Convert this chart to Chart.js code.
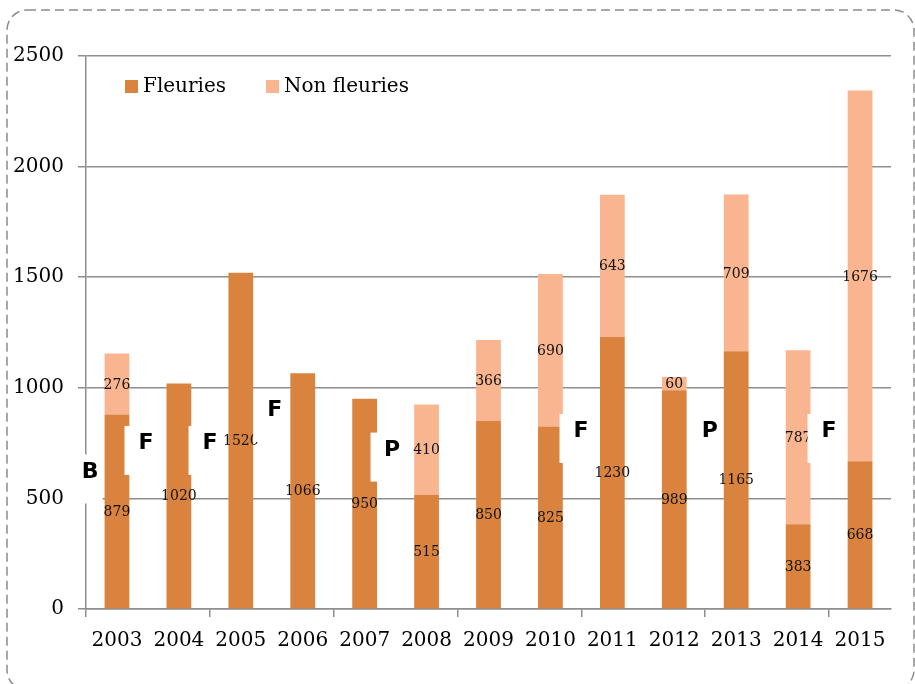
<!DOCTYPE html>
<html>
<head>
<meta charset="utf-8">
<script src="https://cdn.jsdelivr.net/npm/chart.js@4/dist/chart.umd.min.js"></script>
<style>
  html, body { margin: 0; padding: 0; background: #ffffff; }
  #wrap { position: relative; width: 915px; height: 684px; }
</style>
</head>
<body>
<div id="wrap"><canvas id="c" width="915" height="684"></canvas></div>
<script>
// ---- data ----
const years = ['2003','2004','2005','2006','2007','2008','2009','2010','2011','2012','2013','2014','2015'];
const fleuries = [879, 1020, 1520, 1066, 950, 515, 850, 825, 1230, 989, 1165, 383, 668];
const nonFleuries = [276, null, null, null, null, 410, 366, 690, 643, 60, 709, 787, 1676];
const seriesNames = ['Fleuries', 'Non fleuries'];
const yTicks = [0, 500, 1000, 1500, 2000, 2500];

// small lettered white boxes overlaid on the chart (category position, value level)
const noteLetters = ['B', 'F', 'F', 'F', 'P', 'F', 'P', 'F'];
const notePos = [-0.435, 0.469, 1.503, 2.55, 4.442, 7.494, 9.575, 11.5];
const noteLevel = [624, 753, 753, 902, 723, 807, 809, 807];

const DARK = '#D9833F';
const LIGHT = '#F9B58F';
const GRID = '#8e8e8e';
const SERIF = '"DejaVu Serif", "Liberation Serif", serif';

const frame = {
  id: 'frame',
  beforeDraw(chart) {
    const ctx = chart.ctx;
    ctx.save();
    ctx.strokeStyle = '#8c8c8c';
    ctx.lineWidth = 1.5;
    ctx.setLineDash([9, 5]);
    ctx.beginPath();
    ctx.roundRect(7, 10, 907, 680, 20);
    ctx.stroke();
    ctx.restore();
  }
};

const valueLabels = {
  id: 'valueLabels',
  afterDatasetsDraw(chart) {
    const ctx = chart.ctx;
    ctx.save();
    ctx.font = '14px ' + SERIF;
    ctx.fillStyle = '#111111';
    ctx.textAlign = 'center';
    ctx.textBaseline = 'middle';
    chart.data.datasets.forEach((ds, di) => {
      const meta = chart.getDatasetMeta(di);
      meta.data.forEach((el, i) => {
        const v = ds.data[i];
        if (v == null || v === 0) return;
        const p = el.getProps(['x', 'y', 'base'], true);
        ctx.fillText(String(v), p.x, (p.y + p.base) / 2 + 1);
      });
    });
    ctx.restore();
  }
};

const notes = {
  id: 'notes',
  afterDraw(chart) {
    const ctx = chart.ctx;
    const xs = chart.scales.x, ys = chart.scales.y;
    ctx.save();
    noteLetters.forEach((letter, i) => {
      const cx = xs.getPixelForValue(notePos[i]);
      const cy = ys.getPixelForValue(noteLevel[i]);
      ctx.fillStyle = '#ffffff';
      ctx.fillRect(cx - 21.5, cy - 16.5, 34, 49);
      ctx.fillStyle = '#000000';
      ctx.font = 'bold 22px "DejaVu Sans", sans-serif';
      ctx.textAlign = 'center';
      ctx.textBaseline = 'middle';
      ctx.fillText(letter, cx, cy + 1);
    });
    ctx.restore();
  }
};

const innerLegend = {
  id: 'innerLegend',
  afterDraw(chart) {
    const ctx = chart.ctx;
    const area = chart.chartArea;
    ctx.save();
    ctx.font = '20px ' + SERIF;
    ctx.textBaseline = 'middle';
    ctx.textAlign = 'left';
    let x = area.left + 39;
    const y = area.top + 24;
    chart.data.datasets.forEach((ds) => {
      ctx.fillStyle = ds.backgroundColor;
      ctx.fillRect(x, y, 13, 13);
      ctx.fillStyle = '#000000';
      ctx.fillText(ds.label, x + 18, y + 7);
      x += 18 + ctx.measureText(ds.label).width + 40;
    });
    ctx.restore();
  }
};

new Chart(document.getElementById('c'), {
  type: 'bar',
  data: {
    labels: years,
    datasets: [
      { label: seriesNames[0], data: fleuries, backgroundColor: DARK, borderWidth: 0,
        barPercentage: 0.4, categoryPercentage: 1.0 },
      { label: seriesNames[1], data: nonFleuries, backgroundColor: LIGHT, borderWidth: 0,
        barPercentage: 0.4, categoryPercentage: 1.0 }
    ]
  },
  options: {
    responsive: false,
    animation: false,
    layout: { padding: { left: 0, top: 56, right: 24, bottom: 0 } },
    plugins: {
      legend: { display: false },
      tooltip: { enabled: false }
    },
    scales: {
      x: {
        stacked: true,
        afterFit(scale) { scale.height = 75; },
        border: { display: true, color: GRID, width: 1.5 },
        grid: {
          offset: true,
          drawOnChartArea: false,
          drawTicks: true,
          tickLength: 8,
          lineWidth: 1.5,
          tickColor: (c) => (typeof c.index === 'number' && c.index % 2 === 0) ? GRID : 'rgba(0,0,0,0)',
          color: GRID
        },
        ticks: {
          font: { family: SERIF, size: 20 },
          color: '#000000',
          padding: 12,
          maxRotation: 0,
          autoSkip: false
        }
      },
      y: {
        stacked: true,
        min: 0,
        max: 2500,
        afterFit(scale) { scale.width = 86; },
        afterBuildTicks(scale) { scale.ticks = yTicks.map(v => ({ value: v })); },
        border: { display: true, color: GRID, width: 1.5 },
        grid: { color: GRID, lineWidth: 1.5, tickLength: 8 },
        ticks: {
          font: { family: SERIF, size: 20 },
          color: '#000000',
          padding: 14,
          callback: (v) => String(v)
        }
      }
    }
  },
  plugins: [frame, valueLabels, notes, innerLegend]
});
</script>
</body>
</html>
